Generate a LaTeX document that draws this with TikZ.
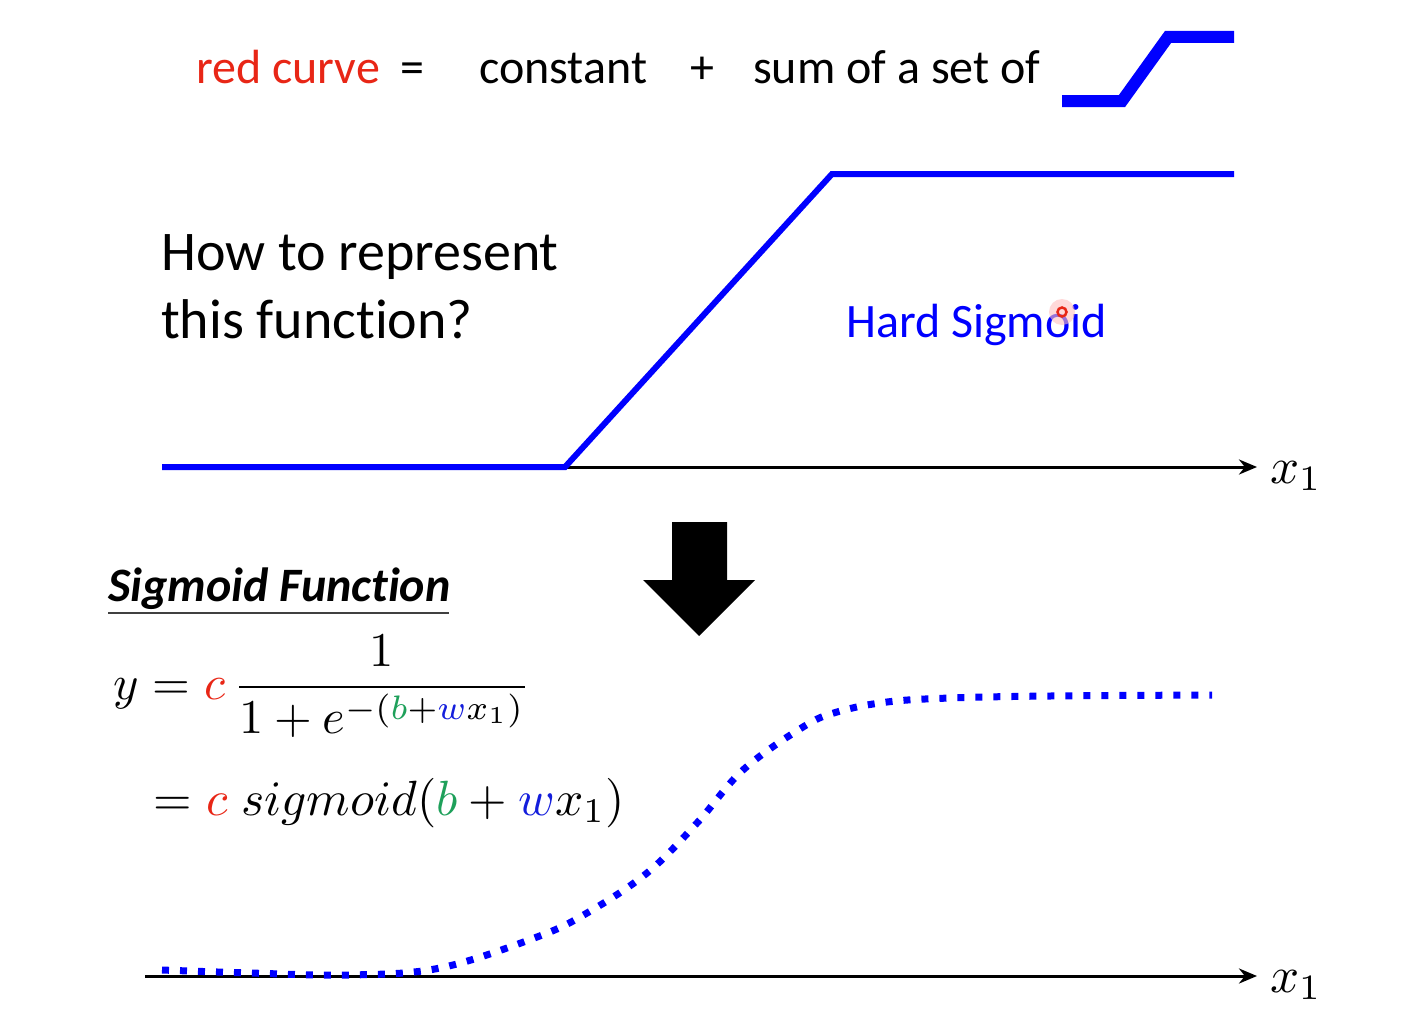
\documentclass[tikz,border=0pt]{standalone}
\usepackage[no-math]{fontspec}
\setmainfont{Carlito}[Ligatures=NoCommon]
\usetikzlibrary{arrows.meta}
\definecolor{tred}{RGB}{232,38,22}
\definecolor{tblue}{RGB}{0,0,255}
\definecolor{tgreen}{RGB}{30,160,90}
\definecolor{mblue}{RGB}{20,30,220}
\newcommand\fsz[1]{\fontsize{#1}{#1}\selectfont}
\begin{document}
\begin{tikzpicture}[x=1pt,y=-1pt,
  txt/.style={anchor=base west,inner sep=0pt},
  mth/.style={anchor=base west,inner sep=0pt,font=\fontsize{10}{12}\selectfont,scale=4.85},
  axisline/.style={line width=3pt,-{Stealth[length=18pt,width=15pt]}},
  hardline/.style={tblue,line width=6pt},
  softline/.style={tblue,line width=7pt,dash pattern=on 7pt off 11pt},
  blockarrow/.style={fill=black,draw=none}]
\useasboundingbox (0,0) rectangle (1405,1025);
% top line
\node[txt,text=tred,font=\fsz{48}] (red) at (196,83) {red curve};
\node[txt,font=\fsz{48}] (eq) at (400,83) {=};
\node[txt,font=\fsz{48}] (const) at (479,83) {constant};
\node[txt,font=\fsz{48}] (plus) at (690,83) {+};
\node[txt,font=\fsz{48}] (sum) at (753,83) {sum of a set of};
\coordinate (i1) at (1062,101); \coordinate (i2) at (1122,101);
\coordinate (i3) at (1168,37); \coordinate (i4) at (1234,37);
\draw[tblue,line width=12pt] (i1) -- (i2) -- (i3) -- (i4);
% question
\node[txt,font=\fsz{56}] (q1) at (161,270) {How to represent};
\node[txt,font=\fsz{56}] (q2) at (161,338) {this function?};
% upper axis and hard sigmoid
\coordinate (a1) at (162,467); \coordinate (a2) at (1257,467);
\draw[axisline] (a1) -- (a2);
\coordinate (h1) at (162,467); \coordinate (h2) at (565,467);
\coordinate (h3) at (832,174); \coordinate (h4) at (1234,174);
\draw[hardline] (h1) -- (h2) -- (h3) -- (h4);
\node[txt,text=tblue,font=\fsz{48}] (hs) at (846,337) {Hard Sigmoid};
\node[mth,scale=5.1/4.85] (xa) at (1269,483) {$x_1$};
% pointer
\fill[red!25,opacity=0.6] (1062,312) circle (13pt);
\draw[tred,line width=2.5pt] (1062,312) circle (4.5pt);
% block arrow
\fill[blockarrow] (672,522) -- (727,522) -- (727,580) -- (755,580) -- (699,636) -- (643,580) -- (672,580) -- cycle;
% sigmoid function title
\node[txt,font=\fsz{48}\bfseries\itshape] (sf) at (108,601) {Sigmoid Function};
\draw[line width=1.8pt,black!75] (108,613) -- (449,613);
% formulas
\node[mth] (f1) at (113,699) {$y=\textcolor{tred}{c}\,{\displaystyle\frac{1}{1+e^{-(\textcolor{tgreen}{b}+\textcolor{mblue}{w}x_1)}}}$};
\node[mth,scale=4.95/4.85] (f2) at (153,815) {$=\textcolor{tred}{c}\;sigmoid(\textcolor{tgreen}{b}+\textcolor{mblue}{w}x_1)$};
% lower axis and sigmoid
\coordinate (b1) at (145,976); \coordinate (b2) at (1257,976);
\draw[axisline] (b1) -- (b2);
\draw[softline] plot[smooth,tension=0.6] coordinates {(162,970) (250,973) (350,975) (440,968) (537,937) (587,913) (647,873) (697,823) (743,770) (803,727) (837,712) (887,702) (950,698) (1050,696) (1212,695)};
\node[mth,scale=5.1/4.85] (xb) at (1269,992) {$x_1$};
\end{tikzpicture}
\end{document}
